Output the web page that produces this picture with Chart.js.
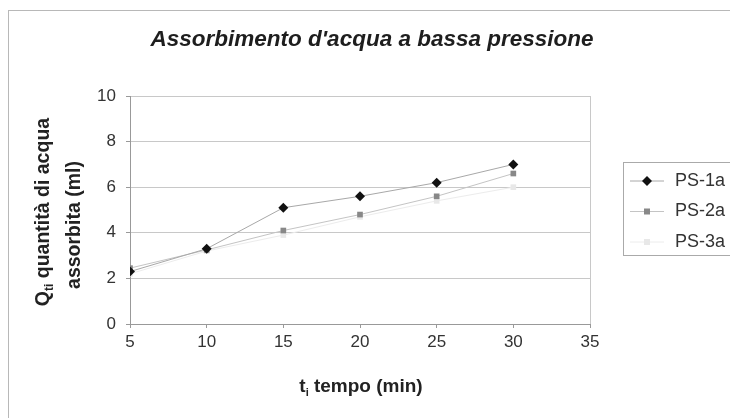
<!DOCTYPE html>
<html>
<head>
<meta charset="utf-8">
<script src="https://cdn.jsdelivr.net/npm/chart.js@4/dist/chart.umd.min.js"></script>
<style>
  html, body { margin: 0; padding: 0; background: #fff; }
  #wrap { width: 730px; height: 418px; position: relative; }
</style>
</head>
<body>
<div id="wrap"><canvas id="c" width="730" height="418"></canvas></div>
<script>
// Time in minutes
const tempo = [5, 10, 15, 20, 25, 30];
// Absorbed water (ml) per sample
const ps1a = [2.3, 3.3, 5.1, 5.6, 6.2, 7.0];
const ps2a = [2.45, 3.25, 4.1, 4.8, 5.6, 6.6];
const ps3a = [2.2, 3.2, 3.9, 4.7, 5.4, 6.0];
const seriesNames = ['PS-1a', 'PS-2a', 'PS-3a'];
const xTicks = [5, 10, 15, 20, 25, 30, 35];
const yTicks = [0, 2, 4, 6, 8, 10];

const FONT = '"Liberation Sans", Arial, sans-serif';
const pts = (ys) => tempo.map((t, i) => ({ x: t, y: ys[i] }));

// Frame, title, axis titles and boxed legend
const decor = {
  id: 'decor',
  beforeDraw(chart) {
    const ctx = chart.ctx;
    ctx.save();
    ctx.fillStyle = '#fff';
    ctx.fillRect(0, 0, chart.width, chart.height);
    ctx.strokeStyle = '#b8b8b8';
    ctx.lineWidth = 1;
    ctx.strokeRect(8.5, 10.5, chart.width + 10, chart.height + 10);
    ctx.restore();
  },
  afterDraw(chart) {
    const ctx = chart.ctx;
    const a = chart.chartArea;
    ctx.save();
    // plot area right edge
    ctx.strokeStyle = '#c8c8c8';
    ctx.beginPath();
    ctx.moveTo(a.right + 0.5, a.top);
    ctx.lineTo(a.right + 0.5, a.bottom);
    ctx.stroke();

    // title
    ctx.fillStyle = '#1e1e1e';
    ctx.font = 'italic bold 22.5px ' + FONT;
    ctx.textAlign = 'center';
    ctx.textBaseline = 'middle';
    ctx.fillText("Assorbimento d'acqua a bassa pressione", 372, 40);

    // text with a subscript part, centred on x
    const drawSub = (x, y, main, sub, rest, size) => {
      const subSize = Math.round(size * 0.6);
      ctx.font = 'bold ' + size + 'px ' + FONT;
      const w1 = ctx.measureText(main).width;
      ctx.font = 'bold ' + subSize + 'px ' + FONT;
      const w2 = ctx.measureText(sub).width;
      ctx.font = 'bold ' + size + 'px ' + FONT;
      const w3 = ctx.measureText(rest).width;
      const sx = x - (w1 + w2 + w3) / 2;
      ctx.textAlign = 'left';
      ctx.fillText(main, sx, y);
      ctx.font = 'bold ' + subSize + 'px ' + FONT;
      ctx.fillText(sub, sx + w1, y + size * 0.3);
      ctx.font = 'bold ' + size + 'px ' + FONT;
      ctx.fillText(rest, sx + w1 + w2, y);
    };
    ctx.fillStyle = '#222';
    drawSub(361, 387, 't', 'i', ' tempo (min)', 19);

    // y title, rotated
    ctx.save();
    ctx.translate(44, 212);
    ctx.rotate(-Math.PI / 2);
    drawSub(0, 0, 'Q', 'ti', ' quantità di acqua', 19.5);
    ctx.restore();
    ctx.save();
    ctx.translate(75, 225);
    ctx.rotate(-Math.PI / 2);
    ctx.textAlign = 'center';
    ctx.font = 'bold 19.5px ' + FONT;
    ctx.fillText('assorbita (ml)', 0, 0);
    ctx.restore();

    // legend box
    ctx.strokeStyle = '#aaa';
    ctx.lineWidth = 1;
    ctx.strokeRect(623.5, 162.5, 140, 93);
    chart.data.datasets.forEach((ds, i) => {
      const y = 181 + i * 30.5;
      ctx.strokeStyle = ds.borderColor;
      ctx.lineWidth = 1;
      ctx.beginPath();
      ctx.moveTo(630, y);
      ctx.lineTo(664, y);
      ctx.stroke();
      ctx.fillStyle = ds.pointBackgroundColor;
      const r = ds.pointRadius;
      if (ds.pointStyle === 'rectRot') {
        ctx.beginPath();
        ctx.moveTo(647, y - r); ctx.lineTo(647 + r, y);
        ctx.lineTo(647, y + r); ctx.lineTo(647 - r, y);
        ctx.closePath(); ctx.fill();
      } else {
        ctx.fillRect(647 - r * 0.75, y - r * 0.75, r * 1.5, r * 1.5);
      }
      ctx.fillStyle = '#333';
      ctx.font = '18px ' + FONT;
      ctx.textAlign = 'left';
      ctx.textBaseline = 'middle';
      ctx.fillText(ds.label, 675, y);
    });
    ctx.restore();
  }
};

new Chart(document.getElementById('c'), {
  type: 'scatter',
  data: {
    datasets: [
      { label: seriesNames[0], data: pts(ps1a), showLine: true,
        borderColor: '#a8a8a8', borderWidth: 1,
        pointStyle: 'rectRot', pointRadius: 5, pointBackgroundColor: '#111', pointBorderColor: '#111', pointBorderWidth: 0 },
      { label: seriesNames[1], data: pts(ps2a), showLine: true,
        borderColor: '#c4c4c4', borderWidth: 1,
        pointStyle: 'rect', pointRadius: 4, pointBackgroundColor: '#888', pointBorderColor: '#888', pointBorderWidth: 0 },
      { label: seriesNames[2], data: pts(ps3a), showLine: true,
        borderColor: '#ececec', borderWidth: 1,
        pointStyle: 'rect', pointRadius: 4, pointBackgroundColor: '#e8e8e8', pointBorderColor: '#e8e8e8', pointBorderWidth: 0 }
    ]
  },
  options: {
    responsive: false,
    animation: false,
    layout: { padding: { left: 90, right: 140, top: 96, bottom: 64 } },
    plugins: { legend: { display: false }, tooltip: { enabled: false } },
    scales: {
      x: {
        type: 'linear', min: xTicks[0], max: xTicks[xTicks.length - 1],
        afterBuildTicks: s => { s.ticks = xTicks.map(v => ({ value: v })); },
        afterFit: s => { s.height = 30; },
        grid: { drawOnChartArea: false, drawTicks: true, tickLength: 4, color: '#999' },
        border: { color: '#999' },
        ticks: { color: '#333', font: { family: FONT, size: 17 }, padding: 4, maxRotation: 0 }
      },
      y: {
        min: yTicks[0], max: yTicks[yTicks.length - 1],
        afterBuildTicks: s => { s.ticks = yTicks.map(v => ({ value: v })); },
        afterFit: s => { s.width = 40; },
        grid: { color: '#c8c8c8', tickLength: 4, tickColor: '#999' },
        border: { color: '#999' },
        ticks: { color: '#333', font: { family: FONT, size: 17 }, padding: 10 }
      }
    }
  },
  plugins: [decor]
});
</script>
</body>
</html>
